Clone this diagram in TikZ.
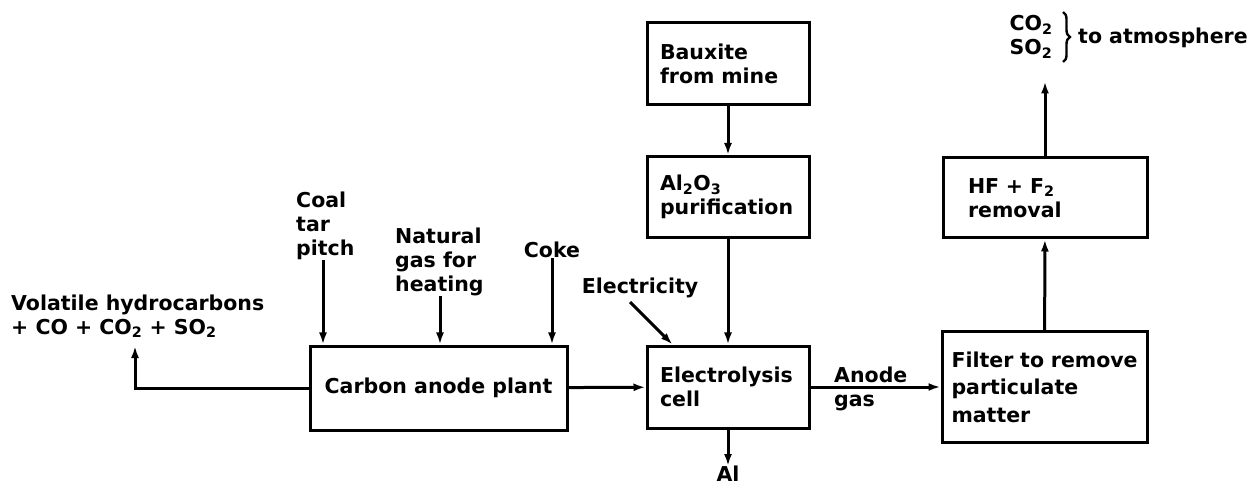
\documentclass[tikz,border=0pt]{standalone}
\usepackage{fontspec}
\setmainfont{DejaVu Sans}
\usetikzlibrary{arrows.meta,decorations.pathreplacing,calc}
\hyphenpenalty=10000
\exhyphenpenalty=10000
\begin{document}
\begin{tikzpicture}[x=1pt,y=-1pt,
  every node/.style={font=\fontsize{20.5}{24}\selectfont\bfseries, inner sep=0pt},
  box/.style={draw, line width=3pt, align=left, inner xsep=11pt, inner ysep=0pt},
  lbl/.style={align=left},
  arr/.style={line width=3pt, -{Latex[length=12pt,width=8pt]}},
  ln/.style={line width=3pt}]
\useasboundingbox (0,0) rectangle (1253,494);
% boxes
\node[box, minimum width=162pt, minimum height=82pt, text width=136pt] (baux) at (728,64) {Bauxite\\from mine};
\node[box, minimum width=162pt, minimum height=81pt, text width=136pt] (alum) at (728,197) {Al\textsubscript{2}O\textsubscript{3}\\purification};
\node[box, minimum width=162pt, minimum height=82pt, text width=136pt] (cell) at (728,387) {Electrolysis\\cell};
\node[box, minimum width=257pt, minimum height=84pt, align=center] (carb) at (438.5,388) {Carbon anode plant};
\node[box, minimum width=205pt, minimum height=110pt, text width=192pt, inner xsep=5pt, font=\fontsize{20.5}{27.5}\selectfont\bfseries] (filt) at (1044.5,387) {\hspace*{3pt}Filter to remove\\\hspace*{3pt}particulate\\\hspace*{3pt}matter};
\node[box, minimum width=204pt, minimum height=80pt, text width=154pt, inner xsep=24pt] (hf) at (1045,198) {HF + F\textsubscript{2}\\removal};
% labels
\node[lbl, anchor=west] (vol) at (11,316) {Volatile hydrocarbons\\+ CO + CO\textsubscript{2} + SO\textsubscript{2}};
\node[lbl, anchor=south west] (coal) at (296,260) {Coal\\tar\\pitch};
\node[lbl, anchor=south west] (gas) at (395,296) {Natural\\gas for\\heating};
\node[lbl, anchor=south] (coke) at (552,258) {Coke};
\node[lbl, anchor=south] (elec) at (640,298) {Electricity};
\node[lbl, anchor=west] (anode) at (834,389) {Anode\\gas};
\node[lbl, anchor=north] (al) at (728,466) {Al};
\node[align=center] (co) at (1031,37) {CO\textsubscript{2}\\SO\textsubscript{2}};
\node[anchor=west] (atm) at (1078,38) {to atmosphere};
% connectors
\draw[arr] (baux) -- (alum);
\draw[arr] (alum) -- (cell);
\draw[arr] (cell) -- (al);
\draw[arr] (carb) -- (cell);
\draw[arr] (cell.east |- filt.west) -- (filt.west);
\draw[arr] (filt) -- (hf);
\draw[arr] (hf.north) -- ++(0,-75) coordinate (top);
\coordinate (volend) at (135,346);
\draw[arr] (carb.west) -| (volend);
\draw[arr] (coal.south -| 323,0) -- (carb.north -| 323,0);
\draw[arr] (gas.south -| 440,0) -- (carb.north -| 440,0);
\draw[arr] (coke.south) -- (carb.north -| coke.south);
\coordinate (elecin) at ($(cell.north west)+(27,0)$);
\draw[arr] ($(elec.south)+(-10,4)$) -- (elecin);
\draw[ln, line width=2.4pt, decorate, decoration={brace, amplitude=7pt}] (1063,12) -- (1063,62);
\end{tikzpicture}
\end{document}
